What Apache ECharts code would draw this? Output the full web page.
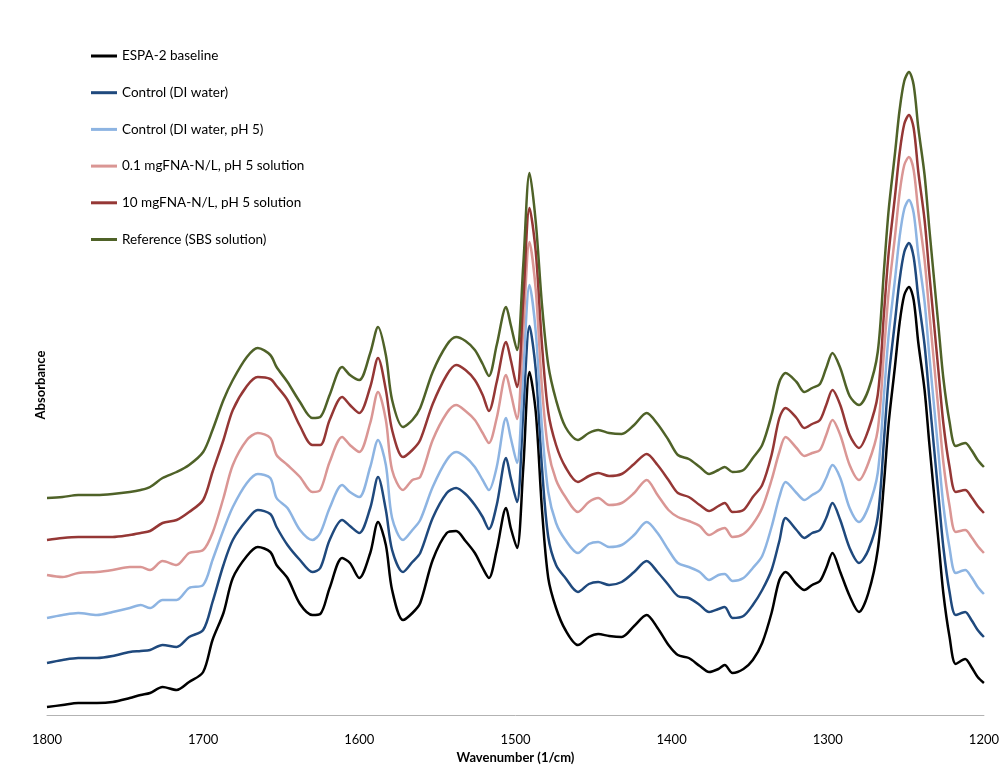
<!DOCTYPE html>
<html>
<head>
<meta charset="utf-8">
<script src="https://cdn.jsdelivr.net/npm/echarts@6/dist/echarts.min.js"></script>
<style>
  html, body { margin: 0; padding: 0; background: #ffffff; }
  #chart { width: 1002px; height: 770px; }
</style>
</head>
<body>
<div id="chart"></div>
<script>
// Wavenumber grid (1/cm), shared by every spectrum
const wavenumbers = [
  1800, 1790, 1780, 1768, 1758, 1747, 1740, 1734, 1726, 1717,
  1709, 1700, 1694, 1687, 1681, 1672, 1665, 1657, 1653, 1646,
  1638, 1630, 1625, 1619, 1611, 1606, 1600, 1593, 1588, 1583,
  1579, 1572, 1566, 1561, 1553, 1544, 1538, 1532, 1526, 1521,
  1517, 1512, 1506, 1503, 1499, 1495, 1491, 1487, 1483, 1479,
  1474, 1468, 1460, 1453, 1447, 1440, 1432, 1424, 1416, 1409,
  1402, 1396, 1389, 1382, 1376, 1370, 1366, 1361, 1354, 1348,
  1342, 1336, 1331, 1327, 1320, 1315, 1310, 1305, 1301, 1297,
  1292, 1286, 1280, 1274, 1268, 1264, 1261, 1257, 1254, 1251,
  1248, 1245, 1242, 1238, 1235, 1232, 1229, 1226, 1222, 1218,
  1212, 1208, 1204, 1200
];

// Absorbance (x10^-3, spectra stacked with offsets)
const espa2Baseline = [
  8, 10, 12, 12, 13, 17, 20, 22, 28, 25,
  33, 43, 75, 102, 137, 159, 168, 163, 150, 137,
  111, 100, 101, 127, 157, 152, 137, 162, 193, 170,
  125, 95, 102, 112, 155, 182, 184, 174, 162, 147,
  137, 165, 207, 187, 167, 247, 343, 303, 205, 137,
  107, 85, 70, 78, 81, 79, 78, 89, 100, 87,
  70, 60, 57, 49, 43, 46, 50, 42, 46, 55,
  72, 102, 135, 143, 131, 125, 130, 134, 147, 162,
  143, 119, 103, 122, 165, 232, 292, 348, 392, 420,
  428, 415, 372, 325, 272, 222, 172, 122, 78, 51,
  56, 48, 38, 32
];

const controlDiWater = [
  52, 55, 57, 57, 59, 63, 64, 65, 70, 68,
  78, 85, 113, 150, 175, 195, 205, 201, 188, 170,
  155, 143, 147, 175, 195, 189, 182, 207, 238, 205,
  165, 143, 153, 162, 197, 222, 227, 221, 210, 198,
  186, 210, 257, 237, 213, 303, 389, 345, 247, 178,
  150, 137, 123, 131, 133, 130, 133, 143, 154, 143,
  130, 119, 117, 110, 103, 106, 108, 97, 99, 110,
  125, 145, 174, 197, 185, 177, 182, 185, 197, 212,
  195, 167, 152, 165, 198, 275, 337, 393, 435, 463,
  472, 458, 417, 370, 318, 268, 218, 168, 123, 100,
  103, 95, 85, 78
];

const controlDiWaterPh5 = [
  97, 100, 102, 100, 103, 107, 110, 107, 115, 115,
  127, 130, 155, 185, 208, 232, 241, 237, 217, 207,
  185, 175, 182, 207, 230, 223, 218, 248, 275, 250,
  197, 175, 185, 195, 228, 255, 263, 258, 248, 235,
  225, 248, 297, 277, 252, 343, 430, 383, 287, 223,
  192, 175, 162, 171, 173, 168, 170, 180, 193, 182,
  165, 152, 148, 143, 135, 140, 141, 134, 137, 147,
  159, 188, 218, 233, 222, 215, 220, 225, 237, 250,
  237, 207, 193, 208, 242, 320, 380, 435, 478, 506,
  515, 502, 460, 413, 360, 310, 260, 210, 167, 142,
  145, 138, 128, 121
];

const fna01Ph5 = [
  140, 138, 142, 143, 145, 148, 148, 145, 154, 150,
  162, 165, 182, 217, 250, 275, 282, 277, 260, 250,
  238, 223, 225, 253, 278, 270, 263, 292, 323, 295,
  245, 225, 235, 238, 275, 302, 310, 304, 295, 282,
  272, 297, 340, 322, 296, 385, 473, 425, 327, 265,
  235, 218, 203, 213, 217, 210, 212, 222, 235, 220,
  205, 198, 194, 189, 180, 185, 187, 178, 181, 191,
  207, 235, 263, 278, 267, 259, 262, 265, 280, 295,
  280, 250, 235, 252, 285, 363, 423, 478, 522, 550,
  558, 545, 503, 455, 403, 353, 303, 253, 209, 183,
  185, 178, 169, 162
];

const fna10Ph5 = [
  175, 177, 178, 178, 178, 180, 182, 184, 192, 195,
  203, 215, 243, 275, 305, 329, 338, 336, 329, 315,
  289, 270, 270, 295, 318, 310, 302, 328, 357, 325,
  285, 258, 265, 275, 311, 340, 350, 345, 335, 320,
  304, 333, 373, 355, 328, 415, 507, 463, 370, 303,
  270, 248, 233, 239, 242, 239, 241, 251, 261, 250,
  235, 222, 218, 210, 204, 209, 212, 203, 205, 218,
  230, 260, 297, 307, 297, 287, 291, 295, 310, 325,
  310, 280, 267, 285, 320, 402, 462, 518, 562, 591,
  600, 587, 543, 495, 442, 392, 342, 292, 248, 223,
  225, 218, 209, 202
];

const referenceSbs = [
  217, 218, 220, 220, 221, 223, 225, 228, 237, 243,
  250, 263, 285, 315, 335, 358, 367, 360, 348, 333,
  313, 297, 298, 320, 348, 340, 335, 362, 388, 360,
  315, 288, 295, 307, 343, 370, 378, 374, 365, 351,
  339, 370, 408, 390, 365, 450, 542, 493, 410, 350,
  315, 288, 275, 282, 285, 282, 281, 290, 302, 291,
  275, 260, 256, 248, 241, 245, 248, 243, 245, 257,
  270, 300, 333, 342, 333, 323, 327, 331, 347, 362,
  347, 319, 310, 325, 363, 445, 505, 561, 605, 634,
  643, 630, 587, 540, 487, 437, 387, 337, 293, 269,
  272, 265, 255, 248
];

const seriesNames = [
  'ESPA-2 baseline',
  'Control (DI water)',
  'Control (DI water, pH 5)',
  '0.1 mgFNA-N/L, pH 5 solution',
  '10 mgFNA-N/L, pH 5 solution',
  'Reference (SBS solution)'
];
const seriesValues = [espa2Baseline, controlDiWater, controlDiWaterPh5, fna01Ph5, fna10Ph5, referenceSbs];
const seriesColors = ['#000000', '#1f497d', '#8db4e2', '#da9694', '#953735', '#4f6228'];

const xAxisMin = 1200, xAxisMax = 1800, xAxisStep = 100;
const xAxisTitle = 'Wavenumber (1/cm)';
const yAxisTitle = 'Absorbance';

const FONT = 'Lato, "Open Sans", sans-serif';

const chart = echarts.init(document.getElementById('chart'), null, { renderer: 'canvas' });

chart.setOption({
  animation: false,
  backgroundColor: '#ffffff',
  grid: { left: 47, right: 17, top: 55, bottom: 55, containLabel: false },
  legend: {
    data: seriesNames,
    orient: 'vertical',
    left: 91,
    top: 49,
    padding: 0,
    icon: 'rect',
    itemWidth: 26,
    itemHeight: 3,
    itemGap: 22.7,
    selectedMode: false,
    textStyle: { fontFamily: FONT, fontSize: 13.5, color: '#000000' }
  },
  xAxis: {
    type: 'value',
    inverse: true,
    min: xAxisMin,
    max: xAxisMax,
    interval: xAxisStep,
    name: xAxisTitle,
    nameLocation: 'middle',
    nameGap: 36,
    nameTextStyle: { fontFamily: FONT, fontSize: 13, fontWeight: 'bold', color: '#000000' },
    axisLine: { show: true, lineStyle: { color: '#b3b3b3', width: 1 } },
    axisTick: { show: false },
    splitLine: { show: false },
    axisLabel: {
      fontFamily: FONT, fontSize: 13, color: '#000000', margin: 18,
      formatter: (v) => String(v)
    }
  },
  yAxis: {
    type: 'value',
    min: 0,
    max: 660,
    name: yAxisTitle,
    nameLocation: 'middle',
    nameRotate: 90,
    nameGap: 0,
    nameTextStyle: { fontFamily: FONT, fontSize: 13, fontWeight: 'bold', color: '#000000' },
    axisLine: { show: false },
    axisTick: { show: false },
    axisLabel: { show: false },
    splitLine: { show: false }
  },
  series: seriesNames.map((name, k) => ({
    name: name,
    type: 'line',
    data: wavenumbers.map((w, i) => [w, seriesValues[k][i]]),
    smooth: 0.3,
    showSymbol: false,
    symbol: 'none',
    lineStyle: { color: seriesColors[k], width: 2.5 },
    itemStyle: { color: seriesColors[k] },
    emphasis: { disabled: true }
  }))
});
</script>
</body>
</html>
